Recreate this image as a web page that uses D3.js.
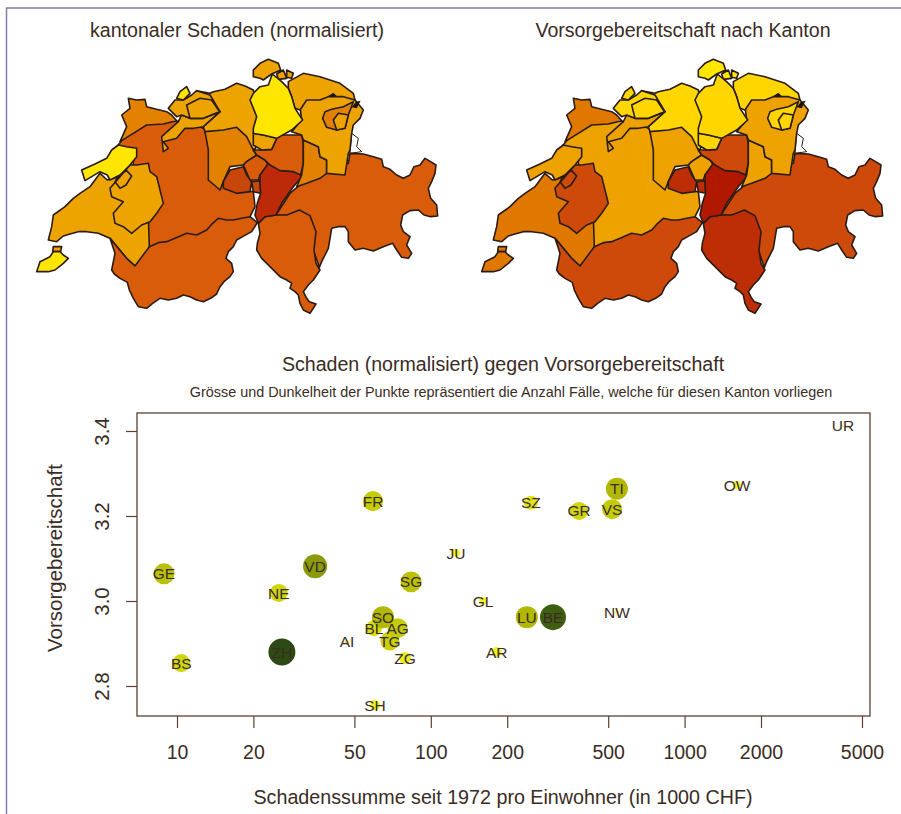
<!DOCTYPE html>
<html>
<head>
<meta charset="utf-8">
<script src="https://cdn.jsdelivr.net/npm/d3@7"></script>
<style>
  body { margin: 0; background: #fff; }
  text { font-family: "Liberation Sans", Arial, sans-serif; fill: #3a2c24; }
</style>
</head>
<body>
<div id="svgContainer"></div>
<script>
// werte pro kanton, aus dem bild gelesen
const kantone   = ["GE","BS","NE","ZH","VD","FR","AI","BL","SO","AG","TG","ZG","SG","SH","JU","GL","AR","SZ","GR","VS","TI","OW","NW","LU","BE","UR"];
const schaden   = [8.89,10.4,25.2,25.9,35,59.2,46.8,59.7,64.8,74,69,79.1,83.6,60.3,125.7,160.6,182,248,384,518,541,1609,541,239,303,4207];
const vorsorge  = [3.064,2.854,3.019,2.88,3.082,3.235,2.904,2.936,2.962,2.936,2.906,2.866,3.045,2.755,3.113,3.0,2.88,3.231,3.212,3.216,3.264,3.273,2.974,2.962,2.962,3.412];
const faelle    = [110,80,80,182,144,100,4,64,121,100,90,36,110,25,16,16,25,49,81,100,121,16,4,121,169,1];

const xTicks = [10,20,50,100,200,500,1000,2000,5000];
const yTicks = [2.8,3.0,3.2,3.4];

// klassen der beiden karten
const schadenGrenzen  = [30,100,240,1000,3000];
const schadenFarben   = ["#ffe600","#eda400","#e28200","#d95c0a","#c9460a","#bd2a0a"];
const vorsorgeGrenzen = [2.8,2.94,3.05,3.2,3.25,3.35];
const vorsorgeFarben  = ["#ffe800","#ffd600","#eda200","#e07800","#cd4a0a","#be2e06","#b01800"];

// umrisse in kartenkoordinaten, frueher gezeichnete liegen teils unter den spaeteren
const outlineVD = [[[85,570],[95,530],[100,495],[135,470],[160,445],[180,430],[210,410],[240,370],[262,390],[300,380],[340,400],[420,470],[400,600],[345,648],[320,625],[270,565],[235,550],[200,545],[175,545],[150,552],[130,558],[110,575]],[[100,590],[125,590],[122,605],[98,605]]];
const outlineVS = [[[270,565],[320,625],[345,648],[388,590],[420,540],[560,500],[590,490],[685,490],[690,500],[712,518],[695,545],[668,560],[650,570],[640,590],[625,605],[618,625],[635,640],[640,665],[630,680],[612,695],[600,710],[590,732],[572,745],[550,755],[530,750],[510,740],[490,735],[470,745],[445,750],[420,745],[398,760],[380,775],[355,770],[340,745],[328,720],[322,697],[300,685],[283,672],[275,660],[285,610]]];
const outlineBE = [[[290,290],[340,230],[430,210],[480,215],[530,225],[600,260],[600,400],[640,420],[700,425],[705,470],[690,500],[665,505],[640,510],[620,510],[595,505],[578,520],[560,540],[530,555],[500,550],[465,565],[440,575],[415,578],[388,590],[385,500],[340,400],[340,320]]];
const outlineFR = [[[330,345],[350,345],[385,340],[390,365],[410,380],[420,420],[430,460],[410,490],[390,515],[365,525],[335,550],[310,530],[285,520],[280,490],[310,455],[275,440],[270,415],[300,380]],[[285,395],[300,372],[320,362],[335,378],[318,405],[300,415]]];
const outlineNE = [[[185,360],[225,342],[260,325],[275,300],[295,285],[320,290],[350,295],[350,320],[330,345],[300,375],[270,390],[262,375],[240,365],[195,392]]];
const outlineGE = [[[50,665],[60,635],[90,620],[100,605],[120,605],[130,615],[145,625],[130,640],[105,660],[85,665]]];
const outlineJU = [[[325,145],[350,150],[375,148],[380,170],[410,178],[440,185],[455,195],[470,212],[430,222],[380,225],[340,250],[300,275],[320,230],[305,195],[330,175]]];
const outlineAG = [[[530,122],[570,130],[580,125],[615,118],[650,100],[675,108],[700,120],[720,200],[720,250],[705,300],[650,270],[560,260],[550,230],[600,185]]];
const outlineSO = [[[425,260],[475,215],[485,195],[510,205],[550,205],[600,185],[550,230],[520,235],[495,235],[470,265],[430,275],[445,295],[430,305]]];
const outlineBL = [[[445,175],[465,150],[490,150],[515,135],[530,122],[570,135],[600,185],[550,205],[510,205],[485,195],[470,200],[460,190]],[[500,165],[540,145],[575,150],[598,185],[550,205],[510,205]]];
const outlineBS = [[[470,145],[480,125],[500,110],[510,130],[490,150]]];
const outlineLU = [[[555,245],[610,240],[650,232],[680,260],[700,300],[710,315],[680,335],[670,345],[630,350],[610,395],[600,420],[565,390],[565,300]]];
const outlineOW = [[[610,395],[630,360],[670,350],[680,375],[695,395],[690,425],[650,430],[610,415]],[[695,395],[722,392],[722,430],[700,425]]];
const outlineNW = [[[670,345],[680,335],[710,315],[735,330],[745,345],[720,375],[715,390],[690,390]]];
const outlineGR = [[[768,495],[810,430],[880,370],[985,340],[990,310],[1030,312],[1060,320],[1085,328],[1090,350],[1110,358],[1130,375],[1150,385],[1170,375],[1182,350],[1200,345],[1215,325],[1232,335],[1248,345],[1245,370],[1235,395],[1225,415],[1232,445],[1250,465],[1253,498],[1232,500],[1212,495],[1195,480],[1170,482],[1148,495],[1142,525],[1150,545],[1170,560],[1160,585],[1175,610],[1165,625],[1145,622],[1130,600],[1118,580],[1090,590],[1060,603],[1030,595],[1005,600],[985,575],[985,545],[975,530],[955,530],[935,535],[930,565],[925,595],[905,635],[898,652],[880,600],[860,500]]];
const outlineTI = [[[715,520],[735,500],[768,495],[800,495],[838,480],[870,497],[888,545],[882,600],[888,640],[900,660],[890,675],[880,690],[865,705],[850,725],[860,745],[868,755],[888,762],[870,790],[850,780],[840,760],[835,735],[825,725],[810,715],[815,700],[800,690],[780,680],[750,650],[725,625],[710,600],[712,580],[720,550]]];
const outlineUR = [[[720,375],[745,340],[780,345],[830,345],[850,375],[820,410],[785,460],[768,495],[735,500],[715,520],[705,495],[712,460],[722,430],[720,400]]];
const outlineSZ = [[[700,300],[725,300],[755,298],[770,265],[780,255],[845,255],[850,280],[850,340],[842,375],[820,365],[780,362],[750,345],[735,330],[710,315]]];
const outlineGL = [[[850,270],[895,290],[900,320],[920,330],[920,370],[900,385],[860,400],[830,410],[845,375],[850,340]]];
const outlineZG = [[[700,250],[730,255],[770,265],[755,298],[725,300],[700,285]]];
const outlineSG = [[[815,245],[845,210],[840,170],[860,140],[905,140],[925,130],[970,130],[1005,150],[1030,180],[1020,205],[1000,225],[995,250],[990,300],[985,310],[975,375],[920,370],[920,330],[900,320],[895,290],[850,270],[845,255]]];
const outlineSH = [[[700,80],[700,60],[720,40],[745,28],[775,40],[782,60],[755,72],[730,90],[720,85]],[[770,72],[790,60],[800,85],[775,88]],[[800,60],[820,70],[815,85],[800,82]]];
const outlineTG = [[[805,95],[850,70],[900,80],[960,100],[1000,130],[1005,150],[970,140],[925,140],[900,150],[860,150],[840,180],[825,175],[815,140],[805,115]]];
const outlineZH = [[[690,150],[700,130],[720,110],[745,105],[757,72],[785,95],[805,115],[815,140],[825,175],[848,210],[815,240],[770,265],[730,255],[700,250],[700,235],[710,200]]];
const outlineAR = [[[908,205],[915,185],[935,178],[970,170],[1000,155],[985,195],[975,235],[950,240],[920,232]]];
const outlineAI = [[[940,210],[955,190],[985,195],[975,235],[950,240]]];
const outlineFL = [[[995,250],[1015,265],[1010,290],[1025,305],[990,310]]];
const seeBlobs  = [[[995,172],[1008,155],[1022,152],[1010,175]],[[925,138],[940,128],[950,138],[935,142]]];

// zeichenreihenfolge
const outlines = [
  ["VD",outlineVD],["VS",outlineVS],["BE",outlineBE],["FR",outlineFR],["NE",outlineNE],["GE",outlineGE],
  ["JU",outlineJU],["AG",outlineAG],["SO",outlineSO],["BL",outlineBL],["BS",outlineBS],["LU",outlineLU],
  ["OW",outlineOW],["NW",outlineNW],["GR",outlineGR],["TI",outlineTI],["UR",outlineUR],["SZ",outlineSZ],
  ["GL",outlineGL],["ZG",outlineZG],["SG",outlineSG],["SH",outlineSH],["TG",outlineTG],["ZH",outlineZH],
  ["AR",outlineAR],["AI",outlineAI]
];

const w = 901;
const h = 814;
const plot = { top: 413, right: 870, bottom: 716, left: 137 };

const svg = d3.select("#svgContainer").append("svg")
    .attr("width", w)
    .attr("height", h)
    .style("display", "block");

// rahmen vom scan
svg.append("path")
    .attr("d", `M6.5,${h} V8 H${w}`)
    .attr("fill", "none")
    .attr("stroke", "#7f7db4")
    .attr("stroke-width", 1.5);

function feature(rings) {
    const closed = rings.map(r => [r.concat([r[0]])]);
    return { type: "Feature", geometry: { type: "MultiPolygon", coordinates: closed } };
}

function drawMap(title, titleX, offsetX, farbe) {
    const path = d3.geoPath(d3.geoIdentity().scale(1 / 3).translate([offsetX, 50]));
    const g = svg.append("g");

    g.append("path")
        .attr("d", path(feature(outlineFL)))
        .attr("fill", "#fff")
        .attr("stroke", "#2a1c14")
        .attr("stroke-width", 1);

    g.selectAll(".canton")
        .data(outlines)
        .enter()
        .append("path")
        .attr("class", "canton")
        .attr("d", d => path(feature(d[1])))
        .attr("fill", d => farbe(d[0]))
        .attr("stroke", "#2a1c14")
        .attr("stroke-width", 1.6)
        .attr("stroke-linejoin", "round");

    g.selectAll(".see")
        .data(seeBlobs)
        .enter()
        .append("path")
        .attr("class", "see")
        .attr("d", d => path(feature([d])))
        .attr("fill", "#1d1410");

    svg.append("text")
        .attr("x", titleX)
        .attr("y", 37)
        .attr("text-anchor", "middle")
        .attr("font-size", 19.6)
        .text(title);
}

const schadenKlasse  = d3.scaleThreshold().domain(schadenGrenzen).range(schadenFarben);
const vorsorgeKlasse = d3.scaleThreshold().domain(vorsorgeGrenzen).range(vorsorgeFarben);

drawMap("kantonaler Schaden (normalisiert)", 237, 20, k => schadenKlasse(schaden[kantone.indexOf(k)]));
drawMap("Vorsorgebereitschaft nach Kanton", 683, 465, k => vorsorgeKlasse(vorsorge[kantone.indexOf(k)]));

// streudiagramm
const x = d3.scaleLog().domain([10, 5000]).range([177, 862]);
const y = d3.scaleLinear().domain([2.8, 3.4]).range([686, 431]);
const r = d3.scaleSqrt().domain([0, 182]).range([0, 13.5]);
const punktFarbe = d3.scaleLinear()
    .domain([0, 50, 100, 125, 144, 169, 182])
    .range(["#ffff30", "#e0e418", "#c4cc08", "#aeb400", "#8a9a0c", "#3f5e12", "#2e4a14"]);

svg.selectAll(".punkt")
    .data(kantone.map((k, i) => i).sort((a, b) => faelle[a] - faelle[b]))
    .enter()
    .append("circle")
    .attr("class", "punkt")
    .attr("cx", i => x(schaden[i]))
    .attr("cy", i => y(vorsorge[i]))
    .attr("r", i => r(faelle[i]))
    .attr("fill", i => punktFarbe(faelle[i]));

svg.selectAll(".kuerzel")
    .data(kantone)
    .enter()
    .append("text")
    .attr("class", "kuerzel")
    .attr("x", (d, i) => x(schaden[i]))
    .attr("y", (d, i) => y(vorsorge[i]))
    .attr("dy", "0.36em")
    .attr("text-anchor", "middle")
    .attr("font-size", 15.5)
    .text(d => d);

svg.append("rect")
    .attr("x", plot.left)
    .attr("y", plot.top)
    .attr("width", plot.right - plot.left)
    .attr("height", plot.bottom - plot.top)
    .attr("fill", "none")
    .attr("stroke", "#5c4030")
    .attr("stroke-width", 1.3);

const xAxis = d3.axisBottom(x).tickValues(xTicks).tickFormat(d3.format("d")).tickSize(12).tickPadding(17);
const yAxis = d3.axisLeft(y).tickValues(yTicks).tickFormat(d3.format(".1f")).tickSize(11);

const gx = svg.append("g").attr("transform", `translate(0,${plot.bottom})`).call(xAxis);
gx.select(".domain").remove();
gx.selectAll("line").attr("stroke", "#5c4030").attr("stroke-width", 1.2);
gx.selectAll("text").attr("font-size", 19.5).style("font-family", "'Liberation Sans', Arial, sans-serif").style("fill", "#3a2c24");

const gy = svg.append("g").attr("transform", `translate(${plot.left},0)`).call(yAxis);
gy.select(".domain").remove();
gy.selectAll("line").attr("stroke", "#5c4030").attr("stroke-width", 1.2);
gy.selectAll("text")
    .attr("font-size", 20.5)
    .style("font-family", "'Liberation Sans', Arial, sans-serif")
    .attr("text-anchor", "middle")
    .attr("x", -35)
    .attr("y", 0)
    .attr("dy", "0.36em")
    .attr("transform", "rotate(-90,-35,0)")
    .style("fill", "#3a2c24");

svg.append("text")
    .attr("x", 503).attr("y", 371)
    .attr("text-anchor", "middle").attr("font-size", 19.6)
    .text("Schaden (normalisiert) gegen Vorsorgebereitschaft");
svg.append("text")
    .attr("x", 511).attr("y", 397)
    .attr("text-anchor", "middle").attr("font-size", 14.4)
    .text("Grösse und Dunkelheit der Punkte repräsentiert die Anzahl Fälle, welche für diesen Kanton vorliegen");
svg.append("text")
    .attr("x", 503).attr("y", 804)
    .attr("text-anchor", "middle").attr("font-size", 19.7)
    .text("Schadenssumme seit 1972 pro Einwohner (in 1000 CHF)");
svg.append("text")
    .attr("transform", "translate(62,558) rotate(-90)")
    .attr("text-anchor", "middle").attr("font-size", 20.5)
    .text("Vorsorgebereitschaft");
</script>
</body>
</html>
